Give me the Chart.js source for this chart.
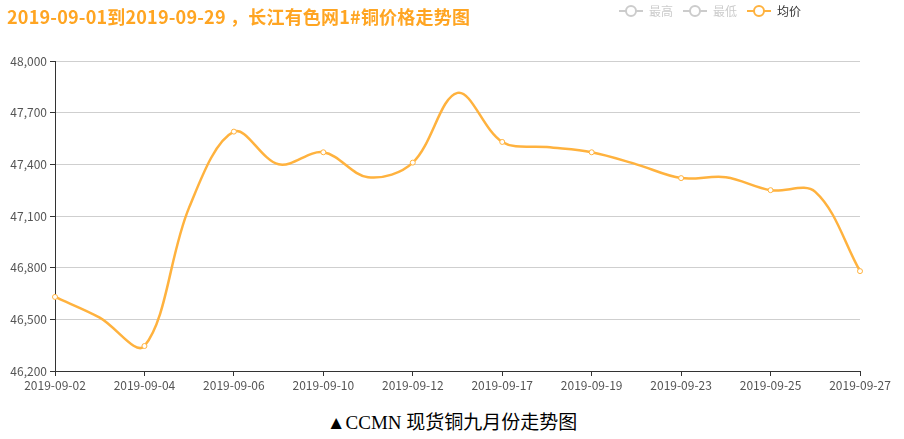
<!DOCTYPE html>
<html>
<head>
<meta charset="utf-8">
<script src="https://cdn.jsdelivr.net/npm/chart.js@4/dist/chart.umd.min.js"></script>
<style>
  html, body { margin: 0; padding: 0; background: #fff; }
  #wrap { position: relative; width: 904px; height: 439px; }
  #box { position: absolute; left: 0; top: 0; width: 904px; height: 400px; }
  #title {
    position: absolute; left: 7px; top: 3px;
    font: bold 18px "Noto Sans CJK SC", sans-serif; color: #ffa522;
    letter-spacing: 0.2px; white-space: nowrap;
  }
  #caption {
    position: absolute; left: 0; top: 407px; width: 904px; text-align: center;
    font: 19px "Liberation Serif", "Noto Sans CJK SC", serif; color: #000;
  }
</style>
</head>
<body>
<div id="wrap">
  <div id="box"><canvas id="chart"></canvas></div>
  <div id="title">2019-09-01到2019-09-29 ，长江有色网1#铜价格走势图</div>
  <div id="caption">▲CCMN 现货铜九月份走势图</div>
</div>
<script>
// trading days in September 2019
const dates = [
  "2019-09-02", "2019-09-03", "2019-09-04", "2019-09-05", "2019-09-06",
  "2019-09-09", "2019-09-10", "2019-09-11", "2019-09-12", "2019-09-16",
  "2019-09-17", "2019-09-18", "2019-09-19", "2019-09-20", "2019-09-23",
  "2019-09-24", "2019-09-25", "2019-09-26", "2019-09-27"
];
// 均价 (average price)
const avgPrice = [
  46630, 46510, 46345, 47150, 47590,
  47400, 47470, 47325, 47410, 47815,
  47530, 47500, 47470, 47400, 47320,
  47325, 47250, 47240, 46780
];
// 最高 / 最低 are switched off in the original legend
const highPrice = [];
const lowPrice = [];
const seriesNames = ["最高", "最低", "均价"];

const ORANGE = "#ffb23e";
const OFF = "#cccccc";

// legend icon: short line with a hollow circle
function legendIcon(color) {
  const c = document.createElement("canvas");
  c.width = 24; c.height = 14;
  const g = c.getContext("2d");
  g.strokeStyle = color;
  g.lineWidth = 2;
  g.beginPath(); g.moveTo(0, 7); g.lineTo(24, 7); g.stroke();
  g.fillStyle = "#fff";
  g.beginPath(); g.arc(12, 7, 5, 0, Math.PI * 2); g.fill(); g.stroke();
  return c;
}

// move the legend left and up, like the original
const legendShift = {
  id: "legendShift",
  afterLayout(chart) {
    const l = chart.legend;
    l.left -= 49; l.right -= 49;
    l.top -= 34; l.bottom -= 34;
  },
};

const ctx = document.getElementById("chart").getContext("2d");

new Chart(ctx, {
  type: "line",
  data: {
    labels: dates,
    datasets: [
      { label: seriesNames[0], data: highPrice, hidden: true, borderColor: OFF },
      { label: seriesNames[1], data: lowPrice, hidden: true, borderColor: OFF },
      {
        label: seriesNames[2],
        data: avgPrice,
        borderColor: ORANGE,
        borderWidth: 2.5,
        tension: 0.35,
        pointRadius: (c) => (c.dataIndex % 2 === 0 ? 2.5 : 0),
        pointBackgroundColor: "#fff",
        pointBorderColor: ORANGE,
        pointBorderWidth: 1,
        clip: false,
      },
    ],
  },
  plugins: [legendShift],
  options: {
    responsive: true,
    maintainAspectRatio: false,
    animation: false,
    layout: { padding: { left: 0, right: 44, top: 29, bottom: 0 } },
    plugins: {
      tooltip: { enabled: false },
      legend: {
        position: "top",
        align: "end",
        labels: {
          usePointStyle: true,
          pointStyleWidth: 24,
          padding: 10,
          font: { size: 12, family: "'Noto Sans CJK SC', sans-serif" },
          generateLabels: (chart) =>
            chart.data.datasets.map((ds, i) => {
              const on = !ds.hidden;
              return {
                text: ds.label,
                fillStyle: "#fff",
                strokeStyle: on ? ORANGE : OFF,
                fontColor: on ? "#333" : OFF,
                pointStyle: legendIcon(on ? ORANGE : OFF),
                hidden: false,
                datasetIndex: i,
              };
            }),
        },
      },
    },
    scales: {
      x: {
        afterFit: (s) => { s.height = 29; },
        border: { color: "#333", width: 1 },
        grid: {
          drawOnChartArea: false,
          tickLength: 5,
          tickColor: (c) => (c.index % 2 === 0 ? "#333" : "transparent"),
        },
        ticks: {
          autoSkip: false,
          maxRotation: 0,
          color: "#555",
          padding: 2,
          font: { size: 12, family: "'Noto Sans CJK SC', sans-serif" },
          callback: (v, i) => (i % 2 === 0 ? dates[i] : ""),
        },
      },
      y: {
        min: 46200,
        max: 48000,
        afterFit: (s) => { s.width = 55; },
        border: { color: "#333", width: 1 },
        grid: { color: "#cfcfcf", tickColor: "#333", tickLength: 5 },
        ticks: {
          stepSize: 300,
          color: "#555",
          padding: 3,
          font: { size: 12, family: "'Noto Sans CJK SC', sans-serif" },
        },
      },
    },
  },
});
</script>
</body>
</html>
